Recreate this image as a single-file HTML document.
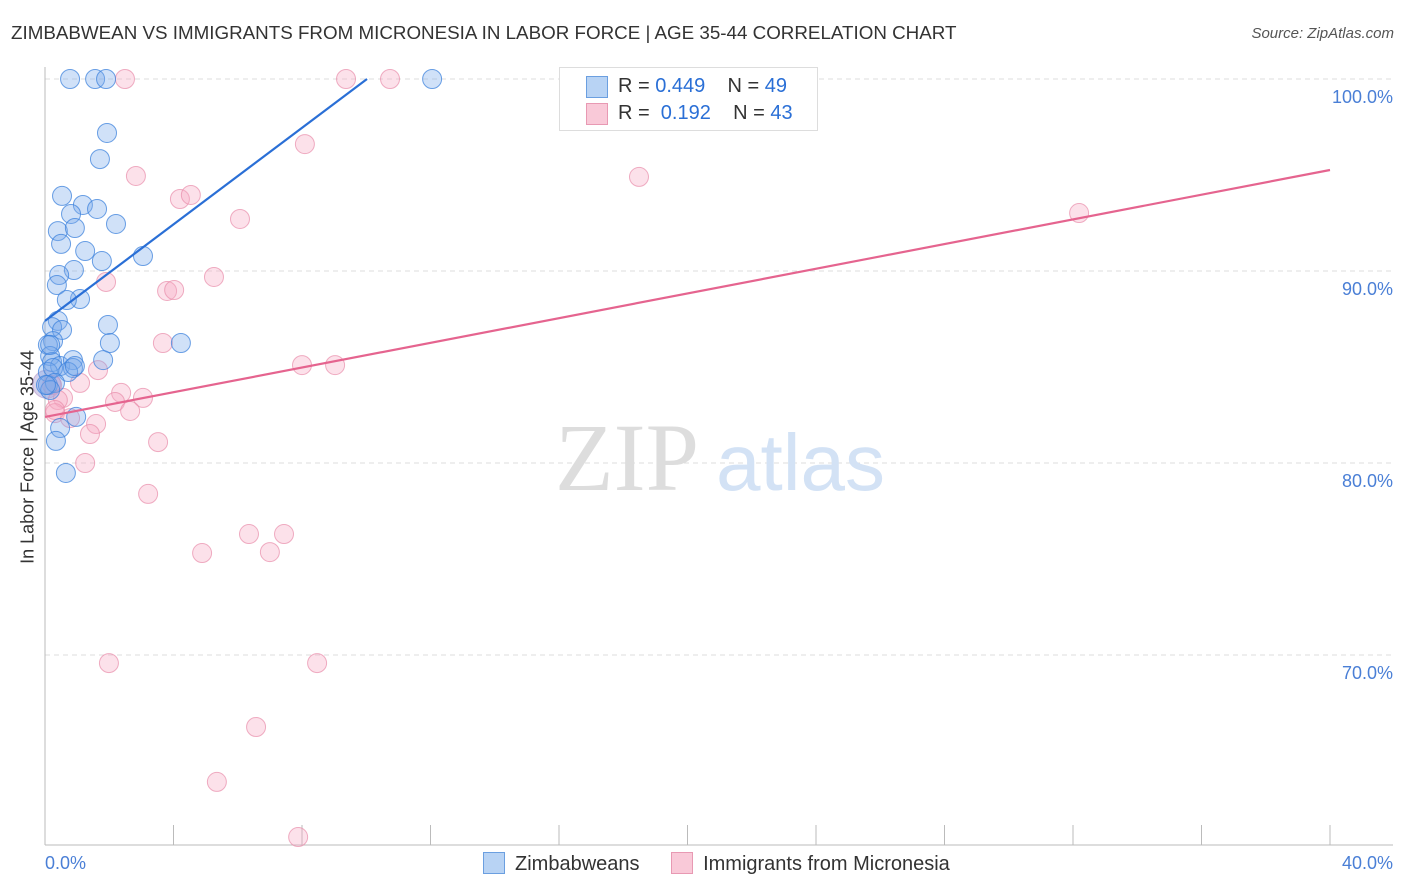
<!DOCTYPE html>
<html><head><meta charset="utf-8"><style>
body{margin:0;background:#fff;font-family:"Liberation Sans",sans-serif;}
#c{position:relative;width:1406px;height:892px;overflow:hidden}
.t{position:absolute;white-space:nowrap}
</style></head><body>
<div id="c">
<div class="t" style="left:11px;top:22px;font-size:18.8px;color:#333">ZIMBABWEAN VS IMMIGRANTS FROM MICRONESIA IN LABOR FORCE | AGE 35-44 CORRELATION CHART</div>
<div class="t" style="right:12px;top:25px;font-size:15px;color:#555;font-style:italic">Source: ZipAtlas.com</div>
<div class="t" style="left:28px;top:457px;font-size:18px;color:#333;transform:translate(-50%,-50%) rotate(-90deg)">In Labor Force | Age 35-44</div>
<svg id="s" width="1406" height="892" style="position:absolute;left:0;top:0"></svg>
</div>
<script>
const yTicks=[100,90,80,70];
const yTickLabels=["100.0%","90.0%","80.0%","70.0%"];
const blueX=[0.78,1.56,1.90,12.05,1.93,1.71,0.53,1.18,1.62,0.81,2.21,0.40,0.93,0.50,1.25,3.05,1.77,0.90,0.44,0.37,1.09,0.68,0.40,1.96,0.22,0.53,0.25,2.02,4.23,0.09,0.16,0.22,0.47,0.87,1.81,0.09,0.25,0.87,0.72,0.93,0.09,0.31,0.16,0.97,0.47,0.34,0.65,0.16,0.03];
const blueY=[100,100,100,100,97.19,95.83,93.91,93.44,93.23,92.97,92.45,92.08,92.24,91.41,91.04,90.78,90.52,90.05,89.79,89.27,88.54,88.49,87.40,87.19,87.08,86.93,86.35,86.25,86.25,86.15,85.57,85.26,85.05,85.36,85.36,84.74,84.95,84.95,84.74,85.05,84.06,84.17,83.80,82.40,81.82,81.15,79.48,86.15,84.06];
const pinkX=[2.49,9.37,10.74,8.09,2.83,18.49,4.20,4.54,6.07,5.26,1.90,3.80,4.02,3.67,8.00,9.03,1.65,1.09,0.22,2.37,3.05,2.18,0.56,0.40,2.65,0.31,0.78,1.59,1.40,3.52,1.25,3.21,6.35,7.44,4.89,7.00,1.99,8.47,6.57,5.35,7.88,32.19,0.31];
const pinkY=[100,100,100,96.61,94.95,94.90,93.75,93.96,92.71,89.69,89.43,88.96,89.01,86.25,85.10,85.10,84.84,84.17,84.06,83.65,83.39,83.18,83.39,83.28,82.71,82.60,82.34,82.03,81.51,81.09,80.00,78.39,76.30,76.30,75.31,75.36,69.58,69.58,66.25,63.39,60.52,93.02,82.76];
const blueLine=[87.4,1.257]; // intercept, slope
const pinkLine=[82.4,0.3215];
const xp=v=>45+v*1285/40;
const yp=v=>79+(100-v)*19.2;
const s=document.getElementById('s');
const NS='http://www.w3.org/2000/svg';
function mk(tag,attrs){const e=document.createElementNS(NS,tag);for(const k in attrs)e.setAttribute(k,attrs[k]);s.appendChild(e);return e;}
yTicks.forEach((v,i)=>{
 const g=mk('line',{x1:45,x2:1393,y1:yp(v),y2:yp(v),stroke:'#ddd','stroke-dasharray':'5,4'});
 
 
 const t=mk('text',{x:1393,y:yp(v)+24,'text-anchor':'end','font-size':18,fill:'#4a7fd6'});
 t.textContent=yTickLabels[i];
 
 
});
mk('line',{x1:45,x2:45,y1:67,y2:845,stroke:'#bbb'});
mk('line',{x1:45,x2:1393,y1:845,y2:845,stroke:'#bbb'});
for(let i=0;i<=10;i++){const l=mk('line',{x1:xp(i*4),x2:xp(i*4),y1:825,y2:845,stroke:'#bbb'});
 
 }
const x0=mk('text',{x:45,y:869,'font-size':18,fill:'#4a7fd6'});x0.textContent='0.0%';


const x1=mk('text',{x:1393,y:869,'text-anchor':'end','font-size':18,fill:'#4a7fd6'});x1.textContent='40.0%';


const w1=mk('text',{x:555,y:490,'font-size':96,fill:'#ddd','font-family':'Liberation Serif, serif'});w1.textContent='ZIP';


const w2=mk('text',{x:716,y:490,'font-size':80,fill:'#d3e2f5'});w2.textContent='atlas';


const big=mk('circle',{cx:xp(0.05),cy:yp(84.1),r:14,fill:'rgba(140,130,200,0.35)',stroke:'rgba(170,130,190,0.5)'});


pinkX.forEach((v,i)=>{const c=mk('circle',{cx:xp(v),cy:yp(pinkY[i]),r:9.5,fill:'rgba(245,170,195,0.35)',stroke:'rgba(232,140,170,0.7)','stroke-width':1});
 
 });
blueX.forEach((v,i)=>{const c=mk('circle',{cx:xp(v),cy:yp(blueY[i]),r:9.5,fill:'rgba(120,170,235,0.35)',stroke:'rgba(60,130,220,0.75)','stroke-width':1});
 
 });
const bxEnd=(100-blueLine[0])/blueLine[1];
const bl=mk('line',{x1:xp(0),y1:yp(blueLine[0]),x2:xp(bxEnd),y2:yp(100),stroke:'#2a6fd6','stroke-width':2.2});


const pl=mk('line',{x1:xp(0),y1:yp(pinkLine[0]),x2:xp(40),y2:yp(pinkLine[0]+40*pinkLine[1]),stroke:'#e5648f','stroke-width':2.2});


</script>
<div class="t" style="left:559px;top:67px;width:257px;height:62px;border:1px solid #ddd;background:#fff;font-size:20px">
 <div style="position:absolute;left:26px;top:8px;width:20px;height:20px;background:#b8d3f4;border:1px solid #6b9fe0"></div>
 <div style="position:absolute;left:58px;top:7px;color:#333">R = <span style="color:#2a6fd6">0.449</span>&nbsp;&nbsp;&nbsp; N = <span style="color:#2a6fd6">49</span></div>
 <div style="position:absolute;left:26px;top:35px;width:20px;height:20px;background:#f9c9d8;border:1px solid #e899b3"></div>
 <div style="position:absolute;left:58px;top:34px;color:#333">R = &nbsp;<span style="color:#2a6fd6">0.192</span>&nbsp;&nbsp;&nbsp; N = <span style="color:#2a6fd6">43</span></div>
</div>
<div class="t" style="left:483px;top:852px;font-size:20px;color:#333">
 <span><span style="display:inline-block;width:20px;height:20px;background:#b8d3f4;border:1px solid #6b9fe0;vertical-align:-4px;margin-right:10px"></span>Zimbabweans</span>
 <span style="margin-left:26px"><span style="display:inline-block;width:20px;height:20px;background:#f9c9d8;border:1px solid #e899b3;vertical-align:-4px;margin-right:10px"></span>Immigrants from Micronesia</span>
</div>
</body></html>
